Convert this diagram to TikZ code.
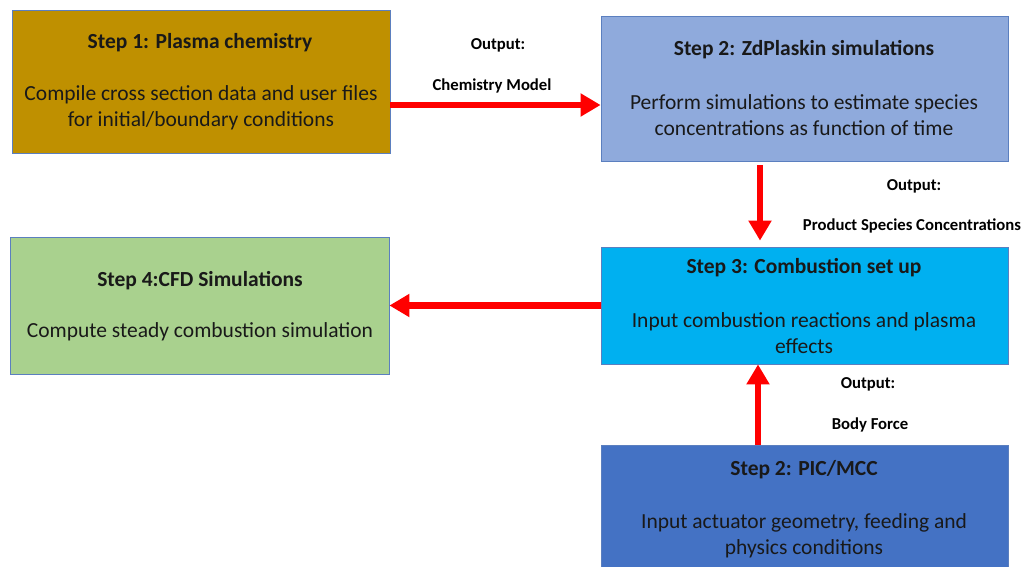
\documentclass[tikz,border=0pt]{standalone}
\usepackage{fontspec}
\setmainfont{Carlito}
\usetikzlibrary{arrows.meta}
\definecolor{gold}{HTML}{BF9000}
\definecolor{zdblue}{HTML}{8FAADC}
\definecolor{cyanb}{HTML}{00B0F0}
\definecolor{greenb}{HTML}{A9D18E}
\definecolor{picblue}{HTML}{4472C4}
\definecolor{edge}{HTML}{5B7FBF}
\definecolor{arrowred}{HTML}{FF0000}
\begin{document}
\begin{tikzpicture}[x=1pt,y=-1pt,
  box/.style={draw=edge, line width=0.8pt, rectangle, inner sep=0pt},
  ttl/.style={font=\bfseries\fontsize{21.5}{25}\selectfont, inner sep=0pt, text=black!90},
  body/.style={font=\fontsize{21.5}{26}\selectfont, align=center, inner sep=0pt, text=black!90},
  lbl/.style={font=\bfseries\fontsize{16.7}{19}\selectfont, inner sep=0pt},
  flow/.style={draw=arrowred, line width=6.5pt, -{Triangle[width=22pt,length=20pt]}}]
\clip (0,0) rectangle (1022,567);
\fill[white] (0,0) rectangle (1022,567);
% boxes
\node[box, fill=gold, minimum width=378pt, minimum height=143pt] (s1) at (201,81.5) {};
\node[box, fill=zdblue, minimum width=407pt, minimum height=145pt] (s2) at (804.5,88.5) {};
\node[box, fill=cyanb, minimum width=407pt, minimum height=117pt] (s3) at (804.5,305.5) {};
\node[box, fill=greenb, minimum width=379pt, minimum height=137pt] (s4) at (199.5,305.5) {};
\node[box, fill=picblue, minimum width=407pt, minimum height=155pt] (pic) at (804.5,522.5) {};
% texts
\node[ttl] (t1) at (200,43) {Step 1: Plasma chemistry};
\node[body] (b1) at (201,108) {Compile cross section data and user files\\for initial/boundary conditions};
\node[ttl] (t2) at (804,50) {Step 2: ZdPlaskin simulations};
\node[body] (b2) at (804,115) {Perform simulations to estimate species\\concentrations as function of time};
\node[ttl] (t3) at (804,268) {Step 3: Combustion set up};
\node[body] (b3) at (804,333) {Input combustion reactions and plasma\\effects};
\node[ttl] (t4) at (200,281) {Step 4:CFD Simulations};
\node[body] (b4) at (200,332) {Compute steady combustion simulation};
\node[ttl] (t5) at (804,470) {Step 2: PIC/MCC};
\node[body] (b5) at (804,536) {Input actuator geometry, feeding and\\physics conditions};
% labels
\node[lbl] (o1) at (498,45) {Output:};
\node[lbl] (m1) at (492,86) {Chemistry Model};
\node[lbl] (o2) at (914,186) {Output:};
\node[lbl] (m2) at (912,226) {Product Species Concentrations};
\node[lbl] (o3) at (868,384) {Output:};
\node[lbl] (m3) at (870,425) {Body Force};
% connectors
\coordinate (r1) at (0,105);
\coordinate (c2) at (760,0);
\coordinate (c4) at (758,0);
\draw[flow] (s1.east |- r1) -- (s2.west |- r1);
\draw[flow, shorten <=4pt, shorten >=6pt] (s2.south -| c2) -- (s3.north -| c2);
\draw[flow] (s3.west) -- (s4.east);
\draw[flow] (pic.north -| c4) -- (s3.south -| c4);
\end{tikzpicture}
\end{document}
